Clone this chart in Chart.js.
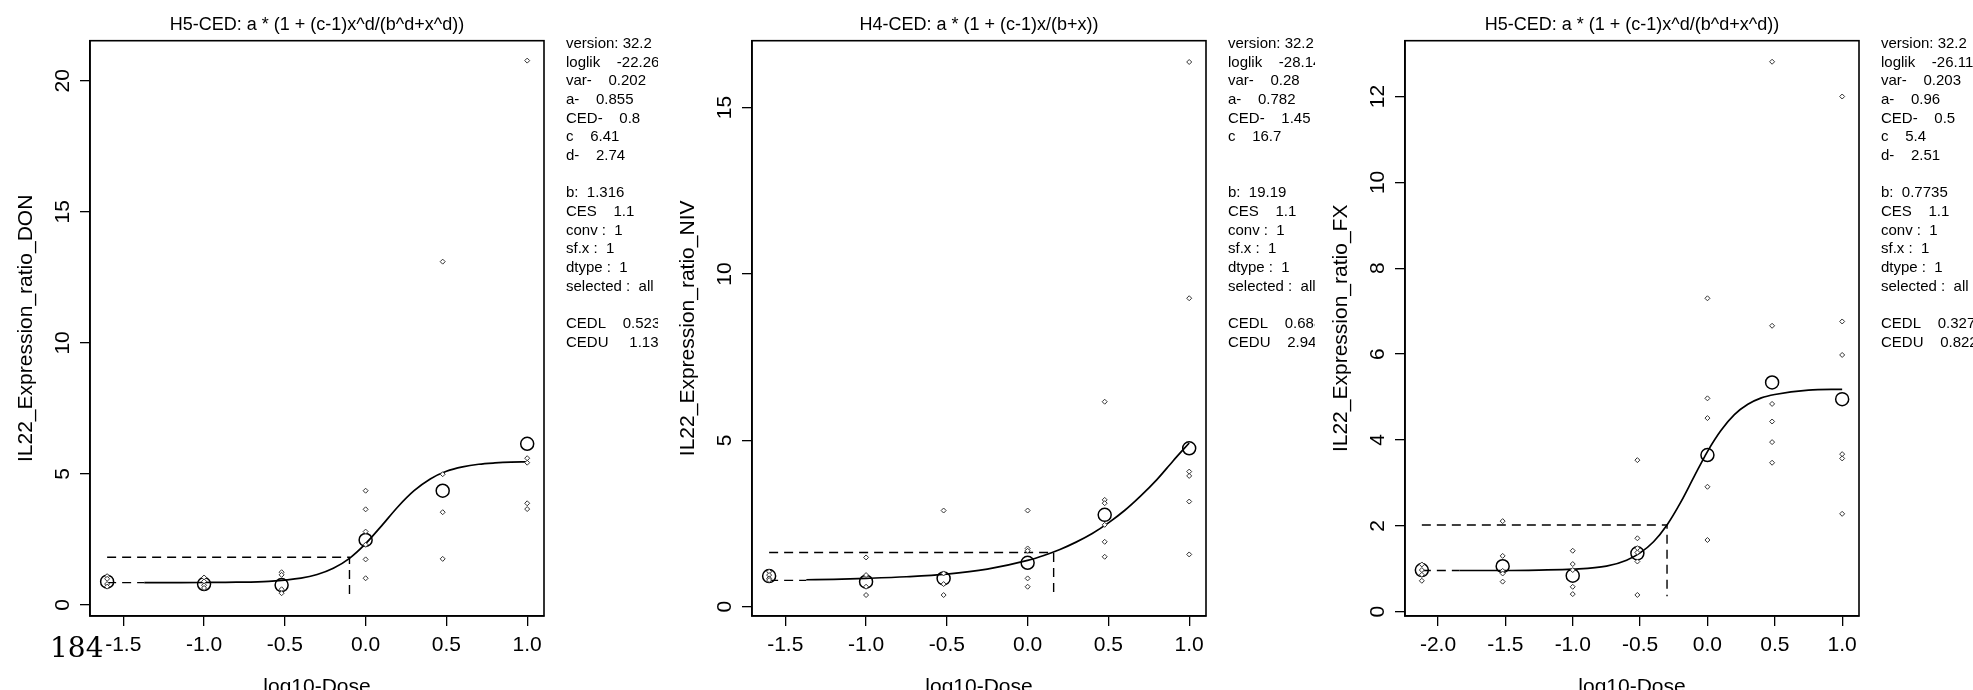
<!DOCTYPE html>
<html>
<head>
<meta charset="utf-8">
<script src="https://cdn.jsdelivr.net/npm/chart.js@4.4.1/dist/chart.umd.min.js"></script>
<style>
  html, body { margin: 0; padding: 0; background: #fff; }
  #wrap { position: relative; width: 1973px; height: 690px; overflow: hidden; background: #fff; }
  canvas { position: absolute; top: 0; }
  #page { position: absolute; left: 50px; top: 634px; font: 28px "DejaVu Serif", serif; line-height: 28px; color: #000; }
</style>
</head>
<body>
<div id="wrap">
  <canvas id="p1" width="658" height="690" style="left:0;width:658px;height:690px"></canvas>
  <canvas id="p2" width="653" height="690" style="left:662px;width:653px;height:690px"></canvas>
  <canvas id="p3" width="658" height="690" style="left:1315px;width:658px;height:690px"></canvas>
  <div id="page">184</div>
</div>
<script>
const FONT = "'Liberation Sans', Arial, Helvetica, sans-serif";

// DON panel
const donTitle = "H5-CED: a * (1 + (c-1)x^d/(b^d+x^d))";
const donYLabel = "IL22_Expression_ratio_DON";
const donXRange = [-1.706, 1.104];
const donYRange = [-0.42, 21.53];
const donXTicks = [-1.5, -1.0, -0.5, 0.0, 0.5, 1.0];
const donYTicks = [0, 5, 10, 15, 20];
const donDoseX = [-1.6, -1.0, -0.52, 0.0, 0.477, 1.0];
const donMeanY = [0.89, 0.80, 0.76, 2.48, 4.36, 6.15];
const donObsX = [-1.6, -1.6, -1.6, -1.6, -1.0, -1.0, -1.0, -1.0, -0.52, -0.52, -0.52, -0.52,
  0, 0, 0, 0, 0, 0, 0.477, 0.477, 0.477, 0.477, 1.0, 1.0, 1.0, 1.0, 1.0];
const donObsY = [1.1, 1.0, 0.8, 0.7, 1.05, 0.9, 0.75, 0.65, 1.25, 1.15, 0.6, 0.45,
  4.36, 3.65, 2.8, 2.3, 1.74, 1.02, 13.1, 4.99, 3.54, 1.76, 20.77, 5.6, 5.43, 3.88, 3.66];
const donCurveX = [-1.37, -1.2, -1.0, -0.8, -0.6, -0.4, -0.3, -0.2, -0.1, 0.0, 0.1, 0.2, 0.3, 0.4, 0.5, 0.6, 0.7, 0.8, 0.9, 1.0];
const donCurveY = [0.855, 0.856, 0.859, 0.869, 0.904, 1.023, 1.162, 1.399, 1.78, 2.34, 3.03, 3.75, 4.36, 4.81, 5.10, 5.27, 5.37, 5.42, 5.45, 5.46];
const donCedX = [-1.6, -0.1, -0.1];
const donCedY = [1.82, 1.82, 0.38];
const donBaseX = [-1.6, -1.37];
const donBaseY = [0.855, 0.855];
const donNotes = ["version: 32.2", "loglik    -22.26", "var-    0.202", "a-    0.855", "CED-    0.8", "c    6.41", "d-    2.74", "",
  "b:  1.316", "CES    1.1", "conv :  1", "sf.x :  1", "dtype :  1", "selected :  all", "", "CEDL    0.523", "CEDU     1.13"];

// NIV panel
const nivTitle = "H4-CED: a * (1 + (c-1)x/(b+x))";
const nivYLabel = "IL22_Expression_ratio_NIV";
const nivXRange = [-1.706, 1.104];
const nivYRange = [-0.28, 17.01];
const nivXTicks = [-1.5, -1.0, -0.5, 0.0, 0.5, 1.0];
const nivYTicks = [0, 5, 10, 15];
const nivDoseX = [-1.6, -1.0, -0.52, 0.0, 0.477, 1.0];
const nivMeanY = [0.92, 0.75, 0.85, 1.32, 2.76, 4.76];
const nivObsX = [-1.6, -1.6, -1.6, -1.6, -1.0, -1.0, -1.0, -1.0, -0.52, -0.52, -0.52, -0.52,
  0, 0, 0, 0, 0, 0.477, 0.477, 0.477, 0.477, 0.477, 0.477, 1.0, 1.0, 1.0, 1.0, 1.0, 1.0];
const nivObsY = [1.05, 0.95, 0.85, 0.8, 1.48, 0.95, 0.6, 0.35, 2.89, 1.0, 0.68, 0.35,
  2.89, 1.75, 1.68, 0.85, 0.6, 6.16, 3.21, 3.11, 2.46, 1.95, 1.5, 16.37, 9.27, 4.06, 3.93, 3.16, 1.57];
const nivCurveX = [-1.37, -1.2, -1.0, -0.75, -0.5, -0.25, 0.0, 0.1, 0.2, 0.3, 0.4, 0.5, 0.6, 0.7, 0.8, 0.9, 1.0];
const nivCurveY = [0.81, 0.82, 0.85, 0.90, 0.98, 1.13, 1.39, 1.54, 1.72, 1.94, 2.20, 2.52, 2.89, 3.33, 3.82, 4.38, 4.92];
const nivCedX = [-1.6, 0.161, 0.161];
const nivCedY = [1.63, 1.63, 0.32];
const nivBaseX = [-1.6, -1.37];
const nivBaseY = [0.79, 0.79];
const nivNotes = ["version: 32.2", "loglik    -28.14", "var-    0.28", "a-    0.782", "CED-    1.45", "c    16.7", "", "",
  "b:  19.19", "CES    1.1", "conv :  1", "sf.x :  1", "dtype :  1", "selected :  all", "", "CEDL    0.688", "CEDU    2.94"];

// FX panel
const fxTitle = "H5-CED: a * (1 + (c-1)x^d/(b^d+x^d))";
const fxYLabel = "IL22_Expression_ratio_FX";
const fxXRange = [-2.245, 1.125];
const fxYRange = [-0.10, 13.30];
const fxXTicks = [-2.0, -1.5, -1.0, -0.5, 0.0, 0.5, 1.0];
const fxYTicks = [0, 2, 4, 6, 8, 10, 12];
const fxDoseX = [-2.12, -1.52, -1.0, -0.52, 0.0, 0.48, 1.0];
const fxMeanY = [0.97, 1.06, 0.84, 1.36, 3.65, 5.34, 4.95];
const fxObsX = [-2.12, -2.12, -2.12, -2.12, -1.52, -1.52, -1.52, -1.52, -1.52, -1.0, -1.0, -1.0, -1.0, -1.0,
  -0.52, -0.52, -0.52, -0.52, -0.52, -0.52, 0, 0, 0, 0, 0, 0.48, 0.48, 0.48, 0.48, 0.48, 0.48, 1.0, 1.0, 1.0, 1.0, 1.0, 1.0];
const fxObsY = [1.1, 0.97, 0.86, 0.72, 2.11, 1.3, 0.95, 0.89, 0.7, 1.42, 1.11, 0.97, 0.58, 0.41,
  3.53, 1.71, 1.48, 1.38, 1.17, 0.39, 7.3, 4.97, 4.51, 2.91, 1.67, 12.81, 6.66, 4.84, 4.43, 3.95, 3.47, 12.0, 6.76, 5.98, 3.67, 3.57, 2.28];
const fxCurveX = [-1.84, -1.5, -1.25, -1.0, -0.75, -0.6, -0.5, -0.4, -0.3, -0.2, -0.1, 0.0, 0.1, 0.2, 0.3, 0.4, 0.5, 0.75, 1.0];
const fxCurveY = [0.96, 0.96, 0.97, 0.99, 1.06, 1.20, 1.37, 1.63, 2.02, 2.54, 3.14, 3.73, 4.22, 4.59, 4.83, 4.98, 5.06, 5.16, 5.18];
const fxCedX = [-2.12, -0.30, -0.30];
const fxCedY = [2.02, 2.02, 0.36];
const fxBaseX = [-2.12, -1.84];
const fxBaseY = [0.96, 0.96];
const fxNotes = ["version: 32.2", "loglik    -26.11", "var-    0.203", "a-    0.96", "CED-    0.5", "c    5.4", "d-    2.51", "",
  "b:  0.7735", "CES    1.1", "conv :  1", "sf.x :  1", "dtype :  1", "selected :  all", "", "CEDL    0.327", "CEDU    0.822"];

function pts(xs, ys) {
  return xs.map((x, i) => ({ x: x, y: ys[i] }));
}

// box, rotated y tick labels and the parameter text on the right
const extras = {
  id: "extras",
  afterDraw(chart, args, opts) {
    const ctx = chart.ctx, a = chart.chartArea, ys = chart.scales.y;
    ctx.save();
    ctx.strokeStyle = "#000";
    ctx.lineWidth = 1.6;
    ctx.strokeRect(a.left, a.top, a.right - a.left, a.bottom - a.top);
    ctx.fillStyle = "#000";
    ctx.font = "21px " + FONT;
    ctx.textAlign = "center";
    ctx.textBaseline = "middle";
    ys.ticks.forEach(t => {
      ctx.save();
      ctx.translate(a.left - 27, ys.getPixelForValue(t.value));
      ctx.rotate(-Math.PI / 2);
      ctx.fillText(String(t.value), 0, 0);
      ctx.restore();
    });
    ctx.font = "15px " + FONT;
    ctx.textAlign = "left";
    opts.notes.forEach((line, i) => {
      ctx.fillText(line, a.right + 22, 44 + i * 18.65);
    });
    ctx.restore();
  }
};

function makePanel(id, o) {
  const canvas = document.getElementById(id);
  const dashed = { type: "line", borderColor: "#000", borderWidth: 1.4, borderDash: [9, 6], pointRadius: 0, tension: 0, fill: false };
  return new Chart(canvas.getContext("2d"), {
    type: "scatter",
    data: {
      datasets: [
        { data: pts(o.obsX, o.obsY), pointStyle: "rectRot", pointRadius: 2.5, borderColor: "#333", backgroundColor: "#fff", borderWidth: 1 },
        { data: pts(o.doseX, o.meanY), pointStyle: "circle", pointRadius: 6.5, borderColor: "#000", backgroundColor: "rgba(0,0,0,0)", borderWidth: 1.5 },
        { type: "line", data: pts(o.curveX, o.curveY), borderColor: "#000", borderWidth: 1.7, pointRadius: 0, cubicInterpolationMode: "monotone", fill: false },
        Object.assign({ data: pts(o.cedX, o.cedY) }, dashed),
        Object.assign({ data: pts(o.baseX, o.baseY) }, dashed),
      ],
    },
    options: {
      responsive: false,
      animation: false,
      devicePixelRatio: 1,
      layout: { padding: { top: 0, right: canvas.width - 544, bottom: 0, left: 0 } },
      plugins: {
        legend: { display: false },
        tooltip: { enabled: false },
        title: {
          display: true, text: o.title, fullSize: false, color: "#000",
          font: { family: FONT, size: 18, weight: "normal", lineHeight: 1.2 },
          padding: { top: 14, bottom: 5.1 },
        },
        extras: { notes: o.notes },
      },
      scales: {
        x: {
          type: "linear", min: o.xRange[0], max: o.xRange[1],
          afterFit: s => { s.height = 74; },
          afterBuildTicks: s => { s.ticks = o.xTicks.map(v => ({ value: v })); },
          grid: { drawOnChartArea: false, drawTicks: true, tickLength: 10, color: "#000", lineWidth: 1.3 },
          border: { display: true, color: "#000", width: 1.6 },
          ticks: { color: "#000", font: { family: FONT, size: 21 }, padding: 7, maxRotation: 0, autoSkip: false, callback: v => v.toFixed(1) },
          title: { display: true, text: "log10-Dose", color: "#000", font: { family: FONT, size: 21, lineHeight: 0.3 }, padding: 0 },
        },
        y: {
          type: "linear", min: o.yRange[0], max: o.yRange[1],
          afterFit: s => { s.width = 90; },
          afterBuildTicks: s => { s.ticks = o.yTicks.map(v => ({ value: v })); },
          grid: { drawOnChartArea: false, drawTicks: true, tickLength: 10, color: "#000", lineWidth: 1.3 },
          border: { display: true, color: "#000", width: 1.6 },
          ticks: { display: false },
          title: { display: true, text: o.yLabel, color: "#000", font: { family: FONT, size: 21 }, padding: { top: 14, bottom: 0 } },
        },
      },
    },
    plugins: [extras],
  });
}

makePanel("p1", { title: donTitle, yLabel: donYLabel, xRange: donXRange, yRange: donYRange, xTicks: donXTicks, yTicks: donYTicks,
  doseX: donDoseX, meanY: donMeanY, obsX: donObsX, obsY: donObsY, curveX: donCurveX, curveY: donCurveY,
  cedX: donCedX, cedY: donCedY, baseX: donBaseX, baseY: donBaseY, notes: donNotes });
makePanel("p2", { title: nivTitle, yLabel: nivYLabel, xRange: nivXRange, yRange: nivYRange, xTicks: nivXTicks, yTicks: nivYTicks,
  doseX: nivDoseX, meanY: nivMeanY, obsX: nivObsX, obsY: nivObsY, curveX: nivCurveX, curveY: nivCurveY,
  cedX: nivCedX, cedY: nivCedY, baseX: nivBaseX, baseY: nivBaseY, notes: nivNotes });
makePanel("p3", { title: fxTitle, yLabel: fxYLabel, xRange: fxXRange, yRange: fxYRange, xTicks: fxXTicks, yTicks: fxYTicks,
  doseX: fxDoseX, meanY: fxMeanY, obsX: fxObsX, obsY: fxObsY, curveX: fxCurveX, curveY: fxCurveY,
  cedX: fxCedX, cedY: fxCedY, baseX: fxBaseX, baseY: fxBaseY, notes: fxNotes });
</script>
</body>
</html>
